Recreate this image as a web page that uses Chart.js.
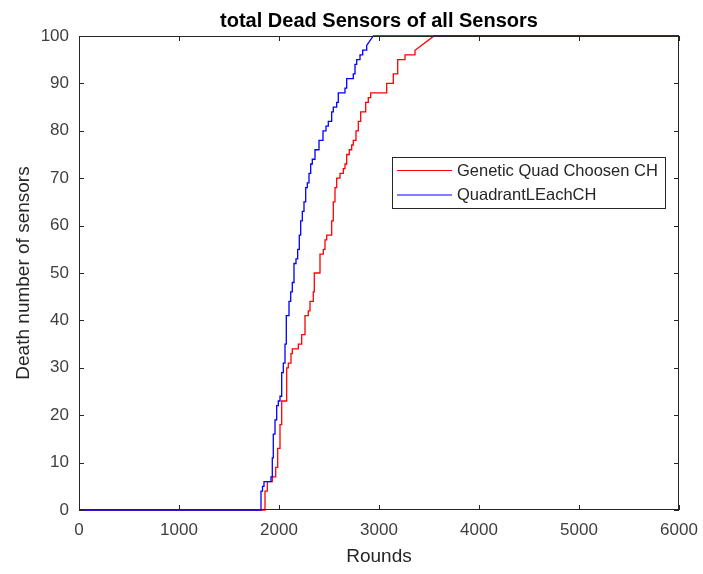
<!DOCTYPE html>
<html>
<head>
<meta charset="utf-8">
<script src="https://cdn.jsdelivr.net/npm/chart.js@4/dist/chart.umd.min.js"></script>
<style>
  html, body { margin: 0; padding: 0; background: #fff; }
  #wrap { width: 703px; height: 574px; }
</style>
</head>
<body>
<div id="wrap"><canvas id="deadChart"></canvas></div>
<script>
// step points: round at which the dead count jumps, and the new count
const stepRoundsRed = [1860, 1883, 1933, 1967, 1987, 2010, 2027, 2077, 2093, 2120, 2133, 2193, 2227, 2260, 2293, 2310, 2343, 2353, 2410, 2443, 2460, 2477, 2527, 2543, 2560, 2577, 2610, 2643, 2660, 2677, 2703, 2727, 2743, 2770, 2793, 2817, 2867, 2893, 2917, 3077, 3143, 3187, 3260, 3360];
const stepDeadRed   = [4, 6, 7, 9, 13, 18, 23, 30, 31, 33, 34, 35, 37, 41, 42, 44, 46, 50, 54, 55, 57, 58, 61, 65, 68, 70, 71, 72, 73, 75, 76, 77, 78, 80, 82, 84, 86, 87, 88, 90, 92, 95, 96, 97];
const fullRoundRed = 3550;

const stepRoundsBlue = [1820, 1835, 1850, 1920, 1933, 1943, 1960, 1977, 1993, 2010, 2027, 2043, 2060, 2073, 2100, 2117, 2133, 2150, 2170, 2187, 2203, 2217, 2233, 2250, 2267, 2283, 2300, 2317, 2333, 2360, 2400, 2440, 2470, 2493, 2527, 2543, 2577, 2593, 2660, 2677, 2743, 2760, 2777, 2810, 2837, 2877];
const stepDeadBlue   = [4, 5, 6, 7, 11, 16, 19, 22, 23, 24, 29, 31, 35, 41, 44, 46, 48, 52, 53, 55, 58, 61, 63, 65, 68, 69, 71, 73, 74, 76, 78, 80, 81, 82, 84, 85, 86, 88, 89, 91, 92, 94, 95, 96, 97, 98];
const fullRoundBlue = 2943;

const lastRound = 6000;
const totalSensors = 100;

const chartTitle = 'total Dead Sensors of all Sensors';
const seriesNames = ['Genetic Quad Choosen CH', 'QuadrantLEachCH'];
const seriesColors = ['#ff0000', '#0000ff'];
const xTicks = [0, 1000, 2000, 3000, 4000, 5000, 6000];
const yTicks = [0, 10, 20, 30, 40, 50, 60, 70, 80, 90, 100];

// staircase: hold the count, jump at each step round, then run up to 100
function stairs(rounds, dead, fullRound) {
  const pts = [{ x: 0, y: 0 }];
  let prev = 0;
  rounds.forEach((r, i) => {
    pts.push({ x: r, y: prev });
    pts.push({ x: r, y: dead[i] });
    prev = dead[i];
  });
  pts.push({ x: fullRound, y: totalSensors });
  pts.push({ x: lastRound, y: totalSensors });
  return pts;
}

const font = "'Liberation Sans', Arial, Helvetica, sans-serif";
const axisColor = '#262626';

// matlab style box, inward ticks, title over the axes and legend box
const boxPlugin = {
  id: 'matlabBox',
  afterDraw(chart) {
    const { ctx, chartArea: a, scales } = chart;
    ctx.save();
    ctx.strokeStyle = axisColor;
    ctx.lineWidth = 1;
    ctx.strokeRect(a.left + 0.5, a.top + 0.5, a.right - a.left - 1, a.bottom - a.top - 1);
    const len = 5;
    ctx.beginPath();
    xTicks.forEach(v => {
      const px = Math.round(scales.x.getPixelForValue(v)) + 0.5;
      ctx.moveTo(px, a.bottom); ctx.lineTo(px, a.bottom - len);
      ctx.moveTo(px, a.top); ctx.lineTo(px, a.top + len);
    });
    yTicks.forEach(v => {
      const py = Math.round(scales.y.getPixelForValue(v)) + 0.5;
      ctx.moveTo(a.left, py); ctx.lineTo(a.left + len, py);
      ctx.moveTo(a.right, py); ctx.lineTo(a.right - len, py);
    });
    ctx.stroke();

    // title centred on the axes
    ctx.fillStyle = '#000';
    ctx.font = 'bold 20px ' + font;
    ctx.textAlign = 'center';
    ctx.textBaseline = 'alphabetic';
    ctx.fillText(chartTitle, (a.left + a.right) / 2, 27);

    // legend
    const lx = 392, ly = 157, lw = 273, lh = 51;
    ctx.fillStyle = '#fff';
    ctx.fillRect(lx, ly, lw, lh);
    ctx.strokeRect(lx + 0.5, ly + 0.5, lw, lh);
    ctx.font = '16.5px ' + font;
    ctx.textAlign = 'left';
    ctx.textBaseline = 'middle';
    seriesNames.forEach((name, i) => {
      const y = ly + 13 + i * 24.5;
      ctx.strokeStyle = seriesColors[i];
      ctx.beginPath();
      ctx.moveTo(lx + 5, y + 0.5); ctx.lineTo(lx + 60, y + 0.5);
      ctx.stroke();
      ctx.fillStyle = axisColor;
      ctx.fillText(name, lx + 65, y + 1);
    });
    ctx.restore();
  }
};

new Chart(document.getElementById('deadChart').getContext('2d'), {
  type: 'line',
  data: {
    datasets: [
      {
        label: seriesNames[0],
        data: stairs(stepRoundsRed, stepDeadRed, fullRoundRed),
        borderColor: seriesColors[0],
        borderWidth: 1.3,
        pointRadius: 0,
        tension: 0,
        clip: false,
        order: 1
      },
      {
        label: seriesNames[1],
        data: stairs(stepRoundsBlue, stepDeadBlue, fullRoundBlue),
        borderColor: seriesColors[1],
        borderWidth: 1.3,
        pointRadius: 0,
        tension: 0,
        clip: false,
        order: 0
      }
    ]
  },
  options: {
    responsive: true,
    maintainAspectRatio: false,
    animation: false,
    layout: { padding: { left: 0, right: 24, top: 36, bottom: 0 } },
    scales: {
      x: {
        type: 'linear',
        min: 0,
        max: 6000,
        afterBuildTicks: s => { s.ticks = xTicks.map(v => ({ value: v })); },
        afterFit: s => { s.height = 64; s.paddingLeft = 0; s.paddingRight = 0; },
        ticks: { color: '#404040', font: { family: font, size: 17 }, padding: 10, maxRotation: 0, callback: v => String(v) },
        grid: { display: true, drawOnChartArea: false, tickLength: 0 },
        border: { display: false },
        title: { display: true, text: 'Rounds', color: axisColor, font: { family: font, size: 19 }, padding: { top: 0, bottom: 6 } }
      },
      y: {
        type: 'linear',
        min: 0,
        max: 100,
        afterBuildTicks: s => { s.ticks = yTicks.map(v => ({ value: v })); },
        afterFit: s => { s.width = 79; s.paddingTop = 0; s.paddingBottom = 0; },
        ticks: { color: '#404040', font: { family: font, size: 17 }, padding: 10, callback: v => String(v) },
        grid: { display: true, drawOnChartArea: false, tickLength: 0 },
        border: { display: false },
        title: { display: true, text: 'Death number of sensors', color: axisColor, font: { family: font, size: 19 }, padding: { top: 12, bottom: 0 } }
      }
    },
    plugins: {
      legend: { display: false },
      tooltip: { enabled: false },
      title: { display: false }
    }
  },
  plugins: [boxPlugin]
});
</script>
</body>
</html>
